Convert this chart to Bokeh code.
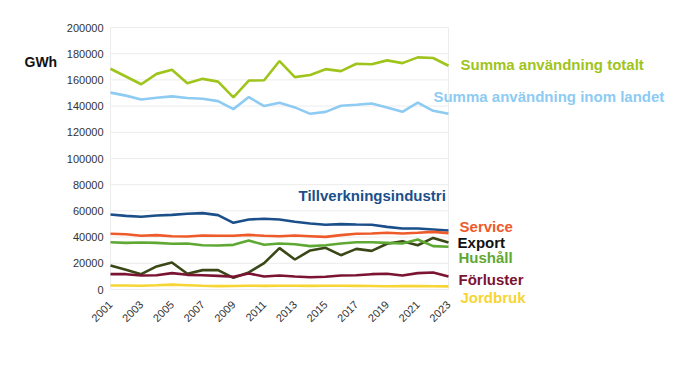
from bokeh.plotting import figure
from bokeh.embed import file_html
from bokeh.resources import INLINE
from bokeh.core.properties import value

years = list(range(2001, 2024))

summa_totalt = [168500, 162600, 156700, 164600, 167700, 157400, 160800, 158700, 146700, 159500,
                159700, 174400, 162100, 163800, 168200, 166700, 172300, 172000, 174900, 172800,
                177200, 176700, 170800]
summa_inom = [150300, 148000, 145100, 146400, 147400, 146200, 145600, 143800, 137700, 146900,
              140000, 142600, 139000, 134100, 135600, 140300, 141000, 142000, 139000, 135600,
              142600, 136400, 134100]
tillverkning = [57300, 56200, 55500, 56500, 57000, 57800, 58300, 56800, 50900, 53400,
                54000, 53400, 51700, 50400, 49400, 49900, 49600, 49400, 47800, 46600,
                46600, 45800, 45000]
service = [42500, 42200, 41000, 41500, 40700, 40500, 41200, 41000, 41000, 41700,
           41000, 40700, 41200, 40700, 40200, 41500, 42500, 42800, 43300, 42800,
           43300, 44000, 43000]
hushall = [36100, 35600, 35900, 35600, 34900, 35100, 33800, 33600, 34100, 37400,
           34100, 35100, 34600, 33100, 33800, 35100, 36100, 36100, 35600, 35100,
           38200, 33100, 32600]
export = [18300, 15000, 11700, 17600, 20600, 12000, 14800, 14800, 8900, 13000,
          20100, 31600, 22900, 29800, 31800, 26200, 31000, 29500, 34900, 36900,
          33800, 39400, 35900]
forluster = [11700, 11700, 10700, 10900, 12500, 11200, 10900, 10400, 9700, 12200,
             9900, 10700, 9900, 9400, 9700, 10700, 10900, 11700, 12000, 10700,
             12500, 13000, 9900]
jordbruk = [3100, 3000, 2900, 3200, 3700, 3300, 2900, 2600, 2700, 2900,
            2800, 2900, 2900, 2800, 2900, 2900, 2800, 2700, 2500, 2600,
            2700, 2500, 2400]

series_names = ["Summa användning totalt", "Summa användning inom landet", "Tillverkningsindustri",
                "Service", "Export", "Hushåll", "Förluster", "Jordbruk"]
series_values = [summa_totalt, summa_inom, tillverkning, service, export, hushall, forluster, jordbruk]
line_colors = ["#9fc41c", "#8dcbf3", "#1b4f8a", "#ef5a2a", "#3a4716", "#5ea833", "#7b1333", "#f6d535"]
label_colors = ["#9fc41c", "#8dcbf3", "#1b4f8a", "#ef5a2a", "#111111", "#5ea833", "#7b1333", "#f6d535"]
# direct-label anchors (left/middle) in data coordinates
label_x = [2023.78, 2022.02, 2013.24, 2023.72, 2023.59, 2023.65, 2023.65, 2023.78]
label_y = [171800, 147300, 71800, 48100, 35900, 24400, 7600, -6100]

unit_label = "GWh"
y_ticks = list(range(0, 200001, 20000))
y_tick_labels = [str(t) for t in y_ticks]
x_ticks = list(range(2001, 2024, 2))
x_tick_labels = [str(t) for t in x_ticks]

W, H = 676, 372
PX_PER_YEAR = 338 / 22.0
UNITS_PER_PX = 20000 / 26.2
x0 = 2001 - 110 / PX_PER_YEAR
x1 = 2001 + (W - 110) / PX_PER_YEAR
y_top = 289 * UNITS_PER_PX
y_bot = (289 - H) * UNITS_PER_PX

p = figure(width=W, height=H, output_backend="svg", toolbar_location=None,
           x_range=(x0, x1), y_range=(y_bot, y_top),
           x_axis_type=None, y_axis_type=None)
p.min_border = 0
p.outline_line_color = None
p.background_fill_color = "white"
p.border_fill_color = "white"
p.xgrid.visible = False
p.ygrid.visible = False

first, last = years[0], years[-1]
# horizontal gridlines at the y ticks
p.segment(x0=[first] * len(y_ticks), x1=[last] * len(y_ticks), y0=y_ticks, y1=y_ticks,
          line_color="#ececec", line_width=1)
# faint frame edges
p.segment(x0=[first, last], x1=[first, last], y0=[y_ticks[0]] * 2, y1=[y_ticks[-1]] * 2,
          line_color="#ececec", line_width=1)

# y tick labels
p.text(x=[first - 7 / PX_PER_YEAR] * len(y_ticks), y=y_ticks, text=y_tick_labels,
       text_align="right", text_baseline="middle", text_font=value("Liberation Sans"),
       text_font_size="11px", text_color="#333333")
# x tick labels (rotated)
p.text(x=x_ticks, y=[-13 * UNITS_PER_PX] * len(x_ticks), text=x_tick_labels,
       angle=0.785398, text_align="right", text_baseline="middle",
       text_font=value("Liberation Sans"), text_font_size="11px", text_color="#333333")

for vals, col in zip(series_values, line_colors):
    p.line(years, vals, line_color=col, line_width=2.6)

p.text(x=label_x, y=label_y, text=series_names, text_color=label_colors,
       text_font=value("Liberation Sans"), text_font_style="bold", text_font_size="15px",
       text_baseline="middle", text_align="left")

p.text(x=[first - 86 / PX_PER_YEAR], y=[173300], text=[unit_label], text_color="#111111",
       text_font=value("Liberation Sans"), text_font_style="bold", text_font_size="14px",
       text_baseline="middle", text_align="left")

open("out.html", "w").write(file_html(p, INLINE))
